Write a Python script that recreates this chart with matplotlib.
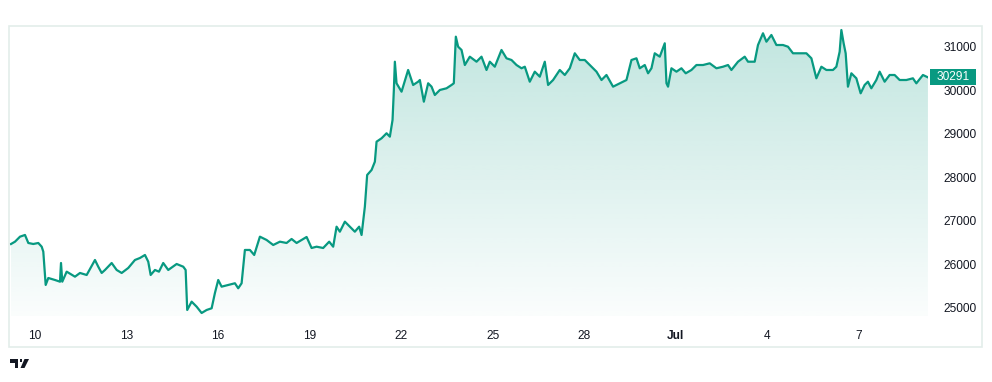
import numpy as np
import pandas as pd
import matplotlib
matplotlib.use("Agg")
import matplotlib.pyplot as plt
import matplotlib.dates as mdates
from matplotlib.patches import Rectangle, PathPatch, Polygon
from matplotlib.transforms import blended_transform_factory

# ---- data: BTC price, day-of-June (July continues as 31+), price in USD ----
day = [9.214, 9.345, 9.509, 9.672, 9.781, 9.944, 10.108, 10.219, 10.272, 10.350,
       10.436, 10.655, 10.819, 10.852, 10.894, 11.038, 11.310, 11.474, 11.693, 11.965,
       12.073, 12.185, 12.293, 12.512, 12.676, 12.840, 13.056, 13.275, 13.439, 13.603,
       13.711, 13.790, 13.931, 14.062, 14.202, 14.366, 14.641, 14.858, 14.936, 14.988,
       15.133, 15.296, 15.460, 15.624, 15.788, 15.896, 16.004, 16.115, 16.331, 16.551,
       16.659, 16.770, 16.878, 17.042, 17.183, 17.370, 17.589, 17.806, 18.025, 18.244,
       18.408, 18.572, 18.736, 18.900, 19.063, 19.227, 19.443, 19.640, 19.771, 19.882,
       19.990, 20.154, 20.318, 20.481, 20.622, 20.701, 20.809, 20.884, 21.029, 21.137,
       21.192, 21.356, 21.520, 21.628, 21.716, 21.759, 21.792, 21.847, 22.011, 22.227,
       22.391, 22.555, 22.611, 22.742, 22.883, 22.994, 23.102, 23.266, 23.485, 23.649,
       23.724, 23.790, 23.865, 23.977, 24.085, 24.248, 24.468, 24.631, 24.795, 24.903,
       25.067, 25.286, 25.450, 25.614, 25.778, 25.942, 26.050, 26.213, 26.377, 26.541,
       26.705, 26.813, 26.977, 27.196, 27.360, 27.524, 27.688, 27.851, 28.015, 28.235,
       28.399, 28.563, 28.726, 28.942, 29.162, 29.381, 29.545, 29.709, 29.817, 29.981,
       30.089, 30.200, 30.308, 30.472, 30.636, 30.692, 30.744, 30.855, 31.019, 31.182,
       31.323, 31.510, 31.674, 31.890, 32.109, 32.329, 32.545, 32.709, 32.820, 33.036,
       33.256, 33.364, 33.583, 33.691, 33.855, 33.967, 34.130, 34.294, 34.510, 34.674,
       34.838, 35.057, 35.277, 35.441, 35.549, 35.604, 35.768, 35.932, 36.148, 36.259,
       36.367, 36.423, 36.498, 36.564, 36.639, 36.751, 36.914, 37.055, 37.186, 37.294,
       37.405, 37.569, 37.677, 37.841, 38.005, 38.169, 38.333, 38.552, 38.768, 38.880,
       39.096, 39.260]
price = [26468, 26521, 26636, 26675, 26491, 26468, 26491, 26406, 26292, 25528,
         25688, 25642, 25603, 26032, 25603, 25833, 25718, 25803, 25757, 26101,
         25947, 25803, 25872, 26032, 25872, 25803, 25918, 26101, 26147, 26216,
         26062, 25757, 25872, 25833, 26032, 25872, 26009, 25947, 25872, 24954,
         25145, 25030, 24885, 24954, 24993, 25344, 25642, 25489, 25528, 25567,
         25452, 25567, 26331, 26331, 26216, 26636, 26560, 26445, 26521, 26491,
         26583, 26491, 26560, 26629, 26376, 26406, 26376, 26521, 26406, 26865,
         26750, 26980, 26865, 26750, 26865, 26675, 27324, 28051, 28166, 28356,
         28815, 28893, 29008, 28930, 29313, 30001, 30650, 30155, 29962, 30460,
         30116, 30191, 30230, 29733, 30155, 30077, 29886, 30001, 30040, 30116,
         30155, 31224, 30994, 30919, 30574, 30765, 30650, 30765, 30460, 30650,
         30535, 30919, 30728, 30689, 30574, 30499, 30535, 30191, 30421, 30306,
         30650, 30116, 30230, 30460, 30345, 30499, 30843, 30689, 30689, 30535,
         30421, 30230, 30345, 30077, 30155, 30230, 30689, 30728, 30499, 30574,
         30384, 30499, 30843, 30765, 31072, 30155, 30077, 30499, 30421, 30499,
         30384, 30460, 30574, 30574, 30613, 30499, 30535, 30574, 30460, 30650,
         30765, 30650, 30650, 31033, 31302, 31109, 31263, 31033, 31033, 30994,
         30843, 30843, 30843, 30728, 30421, 30269, 30535, 30460, 30460, 30535,
         30880, 31377, 31072, 30843, 30077, 30384, 30269, 29925, 30116, 30191,
         30040, 30230, 30421, 30191, 30345, 30345, 30230, 30230, 30269, 30154,
         30345, 30291]

y_ticks = [25000, 26000, 27000, 28000, 29000, 30000, 31000]
x_tick_days = [10, 13, 16, 19, 22, 25, 28, 31, 34, 37]
x_tick_labels = ["10", "13", "16", "19", "22", "25", "28", "Jul", "4", "7"]
last_label = "30291"

# ---- styling ----
W, H = 992, 382
LINE = "#089981"
TXT = "#131722"
BORDER = "#e3edea"
FONT = "Liberation Sans"
FS = 8.6

base = pd.Timestamp("2023-06-01")
def to_num(d):
    return mdates.date2num(base + pd.to_timedelta(np.asarray(d, dtype=float) - 1, unit="D"))

t = to_num(day)
p = np.array(price, dtype=float)

fig = plt.figure(figsize=(W / 100, H / 100), dpi=100)
fig.patch.set_facecolor("white")

def fx(x):
    return x / W
def fy(y):
    return 1 - y / H

ax_left, ax_right, ax_top, ax_bot = 9, 928, 26, 316
ax = fig.add_axes([fx(ax_left), fy(ax_bot), fx(ax_right - ax_left), (ax_bot - ax_top) / H])
ax.set_facecolor("none")

ylo, yhi = 24816, 31469
xlo, xhi = to_num(9.148), to_num(39.262)

# gradient area fill
coll = ax.fill_between(t, p, ylo, facecolor="none", edgecolor="none")
path = coll.get_paths()[0]
clip = PathPatch(path, transform=ax.transData, facecolor="none", edgecolor="none")
ax.add_patch(clip)
rgb = matplotlib.colors.to_rgb(LINE)
grad = np.zeros((256, 1, 4))
grad[..., 0], grad[..., 1], grad[..., 2] = rgb
grad[:, 0, 3] = np.linspace(0.25, 0.02, 256)
im = ax.imshow(grad, aspect="auto", extent=[xlo, xhi, ylo, max(price)],
               origin="upper", zorder=1, interpolation="bilinear")
im.set_clip_path(clip)

ax.plot(t, p, color=LINE, lw=1.6, zorder=3, solid_joinstyle="round")

ax.set_xlim(xlo, xhi)
ax.set_ylim(ylo, yhi)
for s in ax.spines.values():
    s.set_visible(False)

ax.yaxis.tick_right()
ax.set_yticks(y_ticks)
ax.set_yticklabels([str(v) for v in y_ticks])
ax.set_xticks(to_num(x_tick_days))
ax.set_xticklabels(x_tick_labels)
ax.tick_params(axis="both", length=0, colors=TXT, labelsize=FS)
ax.tick_params(axis="y", pad=11)
ax.tick_params(axis="x", pad=10)
for lab in ax.get_xticklabels() + ax.get_yticklabels():
    lab.set_fontfamily(FONT)
for lab in ax.get_xticklabels():
    if lab.get_text() == "Jul":
        lab.set_fontweight("bold")

# last price label
tr = blended_transform_factory(fig.transFigure, ax.transData)
half = 8 * (yhi - ylo) / (ax_bot - ax_top)
fig.add_artist(Rectangle((fx(930), price[-1] - half), fx(46), 2 * half, transform=tr,
                         facecolor=LINE, edgecolor="none", zorder=5))
fig.add_artist(matplotlib.text.Text(fx(953), price[-1], last_label, transform=tr,
                                    color="white", fontsize=FS, fontfamily=FONT,
                                    ha="center", va="center", zorder=6))

# outer border
fig.add_artist(Rectangle((fx(9), fy(347)), fx(982 - 9), (347 - 26) / H,
                         transform=fig.transFigure, fill=False, edgecolor=BORDER,
                         lw=1.2, zorder=4))

# TradingView-style logo
logo_col = "#131722"
fig.add_artist(Polygon([(fx(10), fy(359)), (fx(18), fy(359)), (fx(18), fy(368)),
                        (fx(14.5), fy(368)), (fx(14.5), fy(362.5)), (fx(10), fy(362.5))],
                       closed=True, transform=fig.transFigure, facecolor=logo_col,
                       edgecolor="none"))
fig.add_artist(Polygon([(fx(19.5), fy(359)), (fx(22), fy(359)), (fx(22), fy(361.5)),
                        (fx(19.5), fy(361.5))], closed=True, transform=fig.transFigure,
                       facecolor=logo_col, edgecolor="none"))
fig.add_artist(Polygon([(fx(24.5), fy(359)), (fx(29), fy(359)), (fx(24.5), fy(368)),
                        (fx(20.5), fy(368))], closed=True, transform=fig.transFigure,
                       facecolor=logo_col, edgecolor="none"))

fig.savefig("out.png", dpi=100, facecolor="white")
